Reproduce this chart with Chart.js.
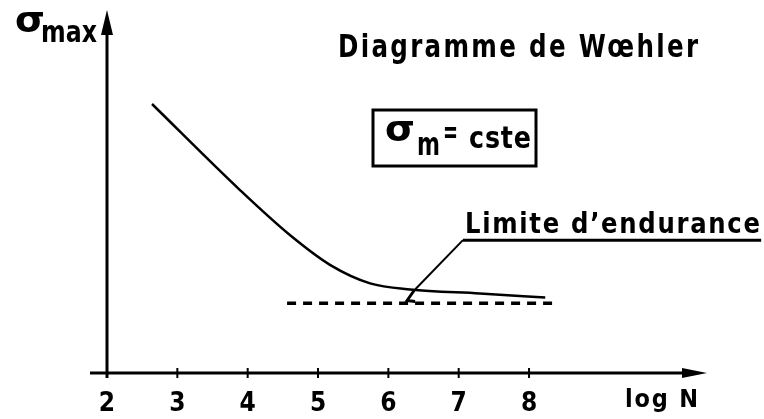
<!DOCTYPE html>
<html>
<head>
<meta charset="utf-8">
<script src="https://cdn.jsdelivr.net/npm/chart.js@4.4.0/dist/chart.umd.min.js"></script>
<style>
  html, body { margin: 0; padding: 0; background: #fff; }
  #wrap { width: 764px; height: 419px; }
</style>
</head>
<body>
<div id="wrap"><canvas id="woehler"></canvas></div>
<script>
// Courbe de Woehler : sigma max en fonction de log N (unites arbitraires)
const logN = [2.64, 3.89, 4.60, 5.17, 5.74, 6.31, 7.30, 8.23];
const sigmaMax = [74.1, 50.4, 38.0, 29.8, 24.7, 23.0, 21.9, 20.8];

// limite d'endurance (asymptote en pointilles)
const enduranceN = [4.56, 8.40];
const enduranceSigma = [19.2, 19.2];

const xTicks = [2, 3, 4, 5, 6, 7, 8];

// point de la courbe vise par le repere, et coude du repere
const leaderTip = [6.38, 23.0];
const leaderElbow = [7.06, 36.6];
const leaderEnd = 11.3;

const FONT = '"DejaVu Sans", sans-serif';

function fitText(ctx, str, left, base, size, width, spacing) {
  ctx.save();
  ctx.font = 'bold ' + size + 'px ' + FONT;
  ctx.letterSpacing = (spacing || 0) + 'px';
  const w = ctx.measureText(str).width - (spacing || 0);
  ctx.translate(left, base);
  ctx.scale(width / w, 1);
  ctx.textBaseline = 'alphabetic';
  ctx.textAlign = 'left';
  ctx.fillText(str, 0, 0);
  ctx.restore();
}

function seg(ctx, pts) {
  ctx.beginPath();
  ctx.moveTo(pts[0][0], pts[0][1]);
  for (let i = 1; i < pts.length; i++) ctx.lineTo(pts[i][0], pts[i][1]);
  ctx.stroke();
}

function tri(ctx, pts) {
  ctx.beginPath();
  ctx.moveTo(pts[0][0], pts[0][1]);
  ctx.lineTo(pts[1][0], pts[1][1]);
  ctx.lineTo(pts[2][0], pts[2][1]);
  ctx.closePath();
  ctx.fill();
}

const decor = {
  id: 'decor',
  beforeDatasetsDraw(chart) {
    const { ctx, chartArea: a, scales: { x } } = chart;
    ctx.save();
    ctx.strokeStyle = '#000';
    ctx.fillStyle = '#000';
    ctx.lineCap = 'butt';

    // axes avec fleches
    ctx.lineWidth = 3;
    seg(ctx, [[a.left - 17, a.bottom], [a.right - 20, a.bottom]]);
    tri(ctx, [[a.right, a.bottom], [a.right - 25, a.bottom - 5], [a.right - 25, a.bottom + 5]]);
    seg(ctx, [[a.left, a.bottom + 5], [a.left, a.top + 20]]);
    tri(ctx, [[a.left, a.top], [a.left - 6, a.top + 25], [a.left + 6, a.top + 25]]);

    // graduations
    ctx.lineWidth = 2;
    xTicks.forEach(v => {
      const px = x.getPixelForValue(v);
      seg(ctx, [[px, a.bottom - 5], [px, a.bottom + 5]]);
    });
    ctx.restore();
  },
  afterDraw(chart) {
    const { ctx, scales: { x, y } } = chart;
    ctx.save();
    ctx.fillStyle = '#000';
    ctx.strokeStyle = '#000';

    // libelles des axes
    fitText(ctx, '\u03C3', 15, 32, 36, 30);
    fitText(ctx, 'max', 41, 42, 30, 56);
    fitText(ctx, 'log N', 625, 407, 25, 73, 2);

    // titre
    fitText(ctx, 'Diagramme de W\u0153hler', 338, 57, 32, 360, 3);

    // encadre sigma m = cste
    ctx.lineWidth = 3;
    ctx.strokeRect(373, 110, 163, 56);
    fitText(ctx, '\u03C3', 385, 141, 36, 30);
    fitText(ctx, 'm', 417, 155, 32, 23);
    fitText(ctx, '=', 443, 143, 32, 15);
    fitText(ctx, 'cste', 469, 148, 30, 62, 1);

    // repere de la limite d'endurance
    const tx = x.getPixelForValue(leaderTip[0]);
    const ty = y.getPixelForValue(leaderTip[1]);
    const ex = x.getPixelForValue(leaderElbow[0]);
    const ey = y.getPixelForValue(leaderElbow[1]);
    const endX = x.getPixelForValue(leaderEnd);
    ctx.lineWidth = 2;
    seg(ctx, [[tx, ty], [ex, ey]]);
    ctx.lineWidth = 3;
    seg(ctx, [[ex, ey], [endX, ey]]);
    seg(ctx, [[tx - 1, ty + 1], [tx - 8, ty + 11], [tx, ty + 12]]);
    fitText(ctx, 'Limite d\u2019endurance', 465, 233, 29, 295, 2);
    ctx.restore();
  }
};

new Chart(document.getElementById('woehler'), {
  type: 'line',
  data: {
    datasets: [
      {
        data: logN.map((n, i) => ({ x: n, y: sigmaMax[i] })),
        borderColor: '#000',
        borderWidth: 2.5,
        pointRadius: 0,
        cubicInterpolationMode: 'monotone',
        fill: false
      },
      {
        data: enduranceN.map((n, i) => ({ x: n, y: enduranceSigma[i] })),
        borderColor: '#000',
        borderWidth: 3.5,
        borderDash: [9, 7],
        pointRadius: 0,
        fill: false
      }
    ]
  },
  options: {
    responsive: true,
    maintainAspectRatio: false,
    animation: false,
    layout: { padding: { left: 107, right: 57, top: 10, bottom: 0 } },
    plugins: {
      legend: { display: false },
      tooltip: { enabled: false }
    },
    scales: {
      x: {
        type: 'linear',
        min: 2,
        max: 10.53,
        grid: { display: false, drawTicks: false },
        border: { display: false },
        afterBuildTicks: scale => { scale.ticks = xTicks.map(v => ({ value: v })); },
        afterFit: scale => { scale.height = 46; },
        ticks: {
          color: '#000',
          padding: 16,
          maxRotation: 0,
          font: { family: '"DejaVu Sans Condensed", "DejaVu Sans", sans-serif', weight: 'bold', size: 26 }
        }
      },
      y: {
        display: false,
        min: 0,
        max: 100
      }
    }
  },
  plugins: [decor]
});
</script>
</body>
</html>
